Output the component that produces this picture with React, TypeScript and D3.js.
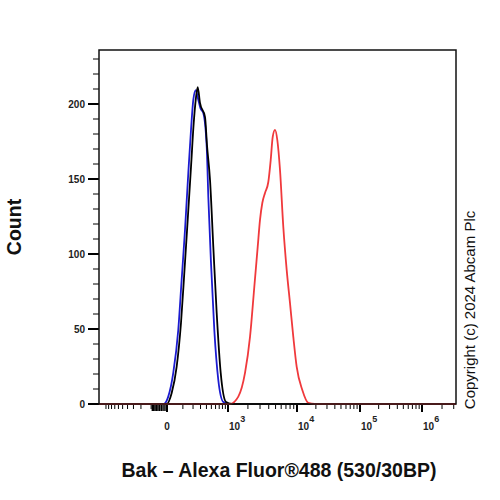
import React from "react";
import * as d3 from "d3";

// channel values (logicle-like axis) and event counts
const blueVals = [-1313, -16, 6, 33, 65, 90, 118, 149, 177, 203, 233, 268, 300, 344, 405, 436, 492, 569, 674, 828, 1011, 3.245e6];
const blueCounts = [0, 0, 4.9, 20.7, 49.3, 82.7, 116, 154, 182.7, 202.7, 209.3, 202.7, 197, 194, 171.3, 138, 94, 49.3, 16, 1.3, 0, 0];

const blackVals = [-1313, -1.4, 24, 54, 85, 112, 143, 177, 208, 233, 259, 292, 374, 410, 471, 545, 630, 745, 924, 1142, 3.245e6];
const blackCounts = [0, 0, 7.3, 24.7, 54, 87.3, 122.7, 158, 187.3, 202.7, 211.3, 200.7, 191.3, 172.7, 149.3, 104.7, 60.7, 20.7, 1.3, 0, 0];

const redVals = [-1313, 1075, 1439, 1812, 2147, 2480, 2778, 2998, 3236, 3537, 3943, 4266, 4554, 4909, 5291, 5776, 6429, 7176, 7983, 8879, 9904, 12159, 15151, 19366, 3.245e6];
const redCounts = [0, 0, 4.9, 20.7, 44.7, 78, 104.7, 122.7, 134, 140.7, 148, 162.7, 178, 182.7, 176, 156, 118, 89.3, 67.3, 44.7, 24.7, 9.3, 0.7, 0, 0];

const xMajorTicks = [0, 1e3, 1e4, 1e5, 1e6];
const xMajorLabels = ["0", "3", "4", "5", "6"];
const decades = [1e3, 1e4, 1e5, 1e6];
const multipliers = [2, 3, 4, 5, 6, 7, 8, 9];
const yMajorTicks = [0, 50, 100, 150, 200];

const X_MIN = -1313;
const X_MAX = 3.245e6;
const FONT = "'Liberation Sans', Arial, sans-serif";

export default function App() {
  const left = 99, right = 456, top = 50, bottom = 404;

  // symlog base, then pinned to the decade positions of the cytometry axis
  const sym = d3.scaleSymlog().constant(135).domain([X_MIN, X_MAX]).range([0, 1]);
  const anchors = [X_MIN, 0, 1e3, 1e4, 1e5, 1e6, X_MAX];
  const warp = d3
    .scaleLinear()
    .domain(anchors.map((v) => sym(v)))
    .range([left, 167, 228, 297, 360, 422, right]);
  const x = (v: number) => warp(sym(v));

  const y = d3.scaleLinear().domain([0, 236]).range([bottom, top]);

  const line = d3
    .line<[number, number]>()
    .x((d) => x(d[0]))
    .y((d) => y(d[1]))
    .curve(d3.curveMonotoneX);

  const series = [
    { vals: blueVals, counts: blueCounts, color: "#1c1cd0" },
    { vals: blackVals, counts: blackCounts, color: "#000000" },
    { vals: redVals, counts: redCounts, color: "#f0393c" },
  ];

  // minor ticks
  const xMinor: number[] = [];
  d3.range(100, 1000, 100).forEach((v) => xMinor.push(v, -v));
  xMinor.push(-1000);
  decades.forEach((d) => multipliers.forEach((m) => xMinor.push(d * m)));
  const xTiny = d3.range(-90, 0, 10);
  const yMinor = d3.range(0, 240, 10);

  return (
    <svg
      width={500}
      height={500}
      style={{ position: "absolute", left: 0, top: 0, background: "#fff" }}
      fontFamily={FONT}
    >
      {/* y axis ticks */}
      {yMinor.map((t) => (
        <line key={"ym" + t} x1={left - 6} x2={left} y1={y(t)} y2={y(t)} stroke="#000" strokeWidth={1} />
      ))}
      {yMajorTicks.map((t) => (
        <g key={"yM" + t}>
          <line x1={left - 11} x2={left} y1={y(t)} y2={y(t)} stroke="#000" strokeWidth={2} />
          <text x={85} y={y(t) + 3.5} textAnchor="end" fontSize={10} fontWeight="bold" fill="#222">
            {t}
          </text>
        </g>
      ))}

      {/* x axis ticks */}
      {xMinor
        .filter((v) => v > X_MIN && v < X_MAX)
        .map((v) => (
          <line key={"xm" + v} x1={x(v)} x2={x(v)} y1={bottom} y2={bottom + 5} stroke="#000" strokeWidth={1} />
        ))}
      {xTiny.map((v) => (
        <line key={"xt" + v} x1={x(v)} x2={x(v)} y1={bottom} y2={bottom + 7} stroke="#000" strokeWidth={1.5} />
      ))}
      {xMajorTicks.map((v, i) => (
        <g key={"xM" + v}>
          <line x1={x(v)} x2={x(v)} y1={bottom} y2={bottom + 8} stroke="#000" strokeWidth={2} />
          {v === 0 ? (
            <text x={x(v)} y={430} textAnchor="middle" fontSize={10} fontWeight="bold" fill="#222">
              0
            </text>
          ) : (
            <text x={x(v) + 1} y={430} fontSize={10} fontWeight="bold" fill="#222">
              10
              <tspan dy={-8} fontSize={9}>
                {xMajorLabels[i]}
              </tspan>
            </text>
          )}
        </g>
      ))}

      {/* histograms */}
      {series.map((s, i) => (
        <path
          key={i}
          d={line(s.vals.map((v, j) => [v, s.counts[j]] as [number, number])) ?? ""}
          fill="none"
          stroke={s.color}
          strokeWidth={1.8}
        />
      ))}

      {/* frame */}
      <rect x={left} y={top} width={right - left} height={bottom - top} fill="none" stroke="#111" strokeWidth={1.5} />

      {/* titles */}
      <text
        transform="translate(21,227) rotate(-90)"
        textAnchor="middle"
        fontSize={19.5}
        fontWeight="bold"
        fill="#111"
      >
        Count
      </text>
      <text x={279} y={477} textAnchor="middle" fontSize={19.5} fontWeight="bold" fill="#111">
        Bak – Alexa Fluor®488 (530/30BP)
      </text>
      <text transform="translate(475,310) rotate(-90)" textAnchor="middle" fontSize={15} fill="#111">
        Copyright (c) 2024 Abcam Plc
      </text>
    </svg>
  );
}
